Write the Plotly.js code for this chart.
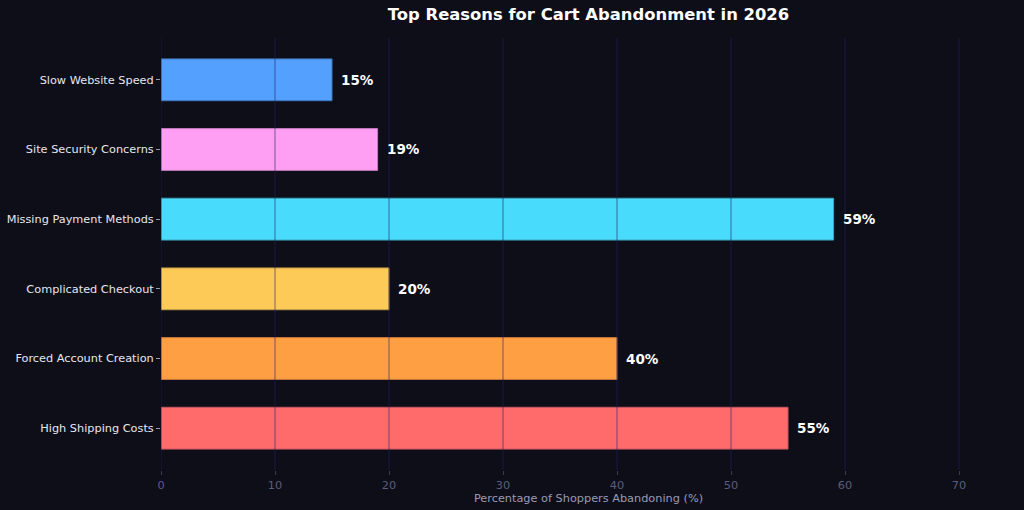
<!DOCTYPE html>
<html><head><meta charset="utf-8">
<script src="https://cdn.plot.ly/plotly-3.0.1.min.js"></script>
<style>html,body{margin:0;padding:0;background:#0e0e19;}#chart{width:1024px;height:510px;}</style>
</head><body><div id="chart"></div>
<script>
const categories = ["High Shipping Costs","Forced Account Creation","Complicated Checkout","Missing Payment Methods","Site Security Concerns","Slow Website Speed"];
const values = [55, 40, 20, 59, 19, 15];
const colors = ["#ff6b6b","#ff9f43","#feca57","#48dbfb","#ff9ff3","#54a0ff"];
const edgeColors = ["#c45660","#c47a3e","#c29c48","#3aa5c0","#c07bbb","#3f78c0"];
const xTicks = [0,10,20,30,40,50,60,70];

const trace = {
  type: 'bar', orientation: 'h',
  x: values, y: categories,
  marker: {color: colors, line: {color: edgeColors, width: 1}},
  width: 0.6, hoverinfo: 'none'
};

const annotations = values.map((v, i) => ({
  x: v, y: categories[i], xref: 'x', yref: 'y',
  text: v + '%', showarrow: false, xanchor: 'left', xshift: 7,
  font: {family: 'DejaVu Sans', size: 13.5, color: '#ffffff', weight: 'bold'}
}));

const shapes = xTicks.map(t => ({
  type: 'line', xref: 'x', yref: 'paper', x0: t, x1: t, y0: 0, y1: 1,
  layer: 'above', line: {color: 'rgba(38,32,100,0.6)', width: 1}
}));

const layout = {
  width: 1024, height: 510,
  paper_bgcolor: '#0e0e19', plot_bgcolor: '#0e0e19',
  margin: {l: 161, r: 8, t: 38, b: 40},
  title: {text: '<b>Top Reasons for Cart Abandonment in 2026</b>', x: 0.5, xref: 'paper', y: 0.972, yanchor: 'middle',
    font: {family: 'DejaVu Sans', size: 16.4, color: '#ffffff'}},
  showlegend: false,
  bargap: 0.4,
  xaxis: {
    range: [0, 75], tickvals: xTicks, showgrid: false, zeroline: false, showline: false,
    ticks: 'outside', ticklen: 4, tickcolor: '#3a3a55', tickwidth: 1,
    tickfont: {family: 'DejaVu Sans', size: 11.3, color: '#5c5c7c'},
    title: {text: 'Percentage of Shoppers Abandoning (%)', standoff: 2,
      font: {family: 'DejaVu Sans', size: 11.3, color: '#9a9ab4'}}
  },
  yaxis: {
    type: 'category', categoryorder: 'array', categoryarray: categories,
    range: [-0.6, 5.6], showgrid: false, zeroline: false, showline: false,
    ticks: 'outside', ticklen: 4, tickcolor: '#9a9ab4', tickwidth: 1,
    tickfont: {family: 'DejaVu Sans', size: 11.3, color: '#e6e6ee'}
  },
  shapes: shapes,
  annotations: annotations
};

Plotly.newPlot('chart', [trace], layout, {displayModeBar: false, staticPlot: true});
</script>
</body></html>
